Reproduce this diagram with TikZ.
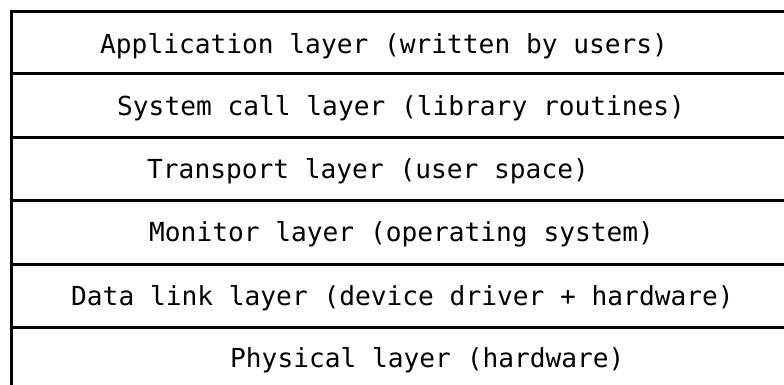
\documentclass[tikz,border=0pt]{standalone}
\usepackage{fontspec}
\newfontfamily\layerfont{DejaVu Sans Mono}
\begin{document}
\begin{tikzpicture}[x=1pt,y=-1pt,
  rule/.style={line width=3pt,black},
  layertext/.style={anchor=base west,inner sep=0pt,font=\layerfont\fontsize{26.2}{30}\selectfont}]
\useasboundingbox (0,0) rectangle (784,385);
% horizontal rules
\foreach \yy in {12,74,138,200,264,327} {
  \draw[rule] (10,\yy) -- (784,\yy);
}
% left edge
\draw[rule] (11.5,10.5) -- (11.5,385);
% layer labels
\node[layertext] (app)  at (100,53.5)  {Application layer (written by users)};
\node[layertext] (sys)  at (117,115.5) {System call layer (library routines)};
\node[layertext] (tra)  at (147,178.5) {Transport layer (user space)};
\node[layertext] (mon)  at (149,241.5) {Monitor layer (operating system)};
\node[layertext] (dat)  at (71,305)    {Data link layer (device driver + hardware)};
\node[layertext] (phy)  at (230,367.5) {Physical layer (hardware)};
\end{tikzpicture}
\end{document}
